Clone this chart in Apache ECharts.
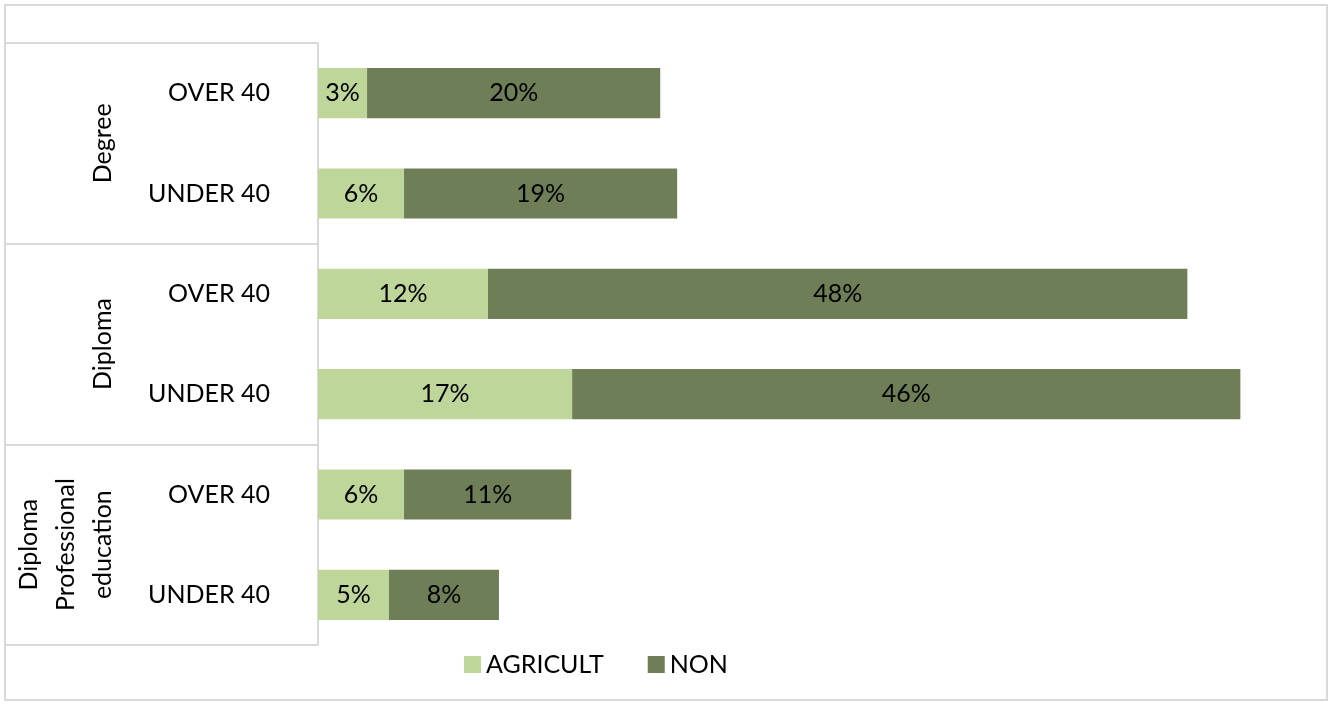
<!DOCTYPE html>
<html>
<head>
<meta charset="utf-8">
<script src="https://cdn.jsdelivr.net/npm/echarts@6/dist/echarts.min.js"></script>
<style>
  html, body { margin: 0; padding: 0; background: #fff; }
  #chart { width: 1330px; height: 704px; }
</style>
</head>
<body>
<div id="chart"></div>
<script>
// Age bands within each education level, top to bottom
const ageBands = ['OVER 40', 'UNDER 40', 'OVER 40', 'UNDER 40', 'OVER 40', 'UNDER 40'];
// Education levels, each spanning two age bands
const educationLevels = ['Degree', 'Diploma', 'Diploma\nProfessional\neducation'];
// Share of respondents (%) by sector
const agricult = [3.36, 5.89, 11.64, 17.4, 5.89, 4.86];
const nonAgri = [20.07, 18.7, 47.88, 45.75, 11.45, 7.53];
const seriesNames = ['AGRICULT', 'NON'];

const FONT = 'Lato, "Open Sans", sans-serif';
const FONT_SIZE = 25;
const GRID_LINE = '#d9d9d9';

const chart = echarts.init(document.getElementById('chart'));

const pctLabel = {
  show: true,
  position: 'inside',
  color: '#000',
  fontFamily: FONT,
  fontSize: FONT_SIZE,
  formatter: p => Math.round(p.value) + '%'
};

chart.setOption({
  animation: false,
  backgroundColor: '#fff',
  textStyle: { fontFamily: FONT },
  graphic: [{
    type: 'rect',
    shape: { x: 5, y: 5, width: 1322, height: 695 },
    style: { fill: 'none', stroke: GRID_LINE, lineWidth: 2 },
    silent: true
  }],
  grid: { left: 318, top: 43, bottom: 59, right: 48 },
  legend: {
    data: seriesNames,
    left: 459,
    top: 647,
    itemWidth: 17,
    itemHeight: 17,
    itemGap: 44,
    icon: 'rect',
    textStyle: { fontFamily: FONT, fontSize: FONT_SIZE, color: '#000' }
  },
  xAxis: {
    type: 'value',
    min: 0,
    max: 66,
    show: false
  },
  yAxis: [{
    type: 'category',
    data: ageBands,
    inverse: true,
    axisLine: { show: false },
    axisTick: { show: false },
    axisLabel: {
      interval: 0,
      margin: 48,
      color: '#000',
      fontFamily: FONT,
      fontSize: FONT_SIZE
    }
  }, {
    type: 'category',
    data: educationLevels,
    inverse: true,
    position: 'left',
    axisLine: { show: true, lineStyle: { color: GRID_LINE, width: 2 } },
    axisTick: { show: true, length: 313, lineStyle: { color: GRID_LINE, width: 2 } },
    axisLabel: {
      interval: 0,
      rotate: 90,
      align: 'center',
      verticalAlign: 'bottom',
      margin: 197,
      lineHeight: 37,
      color: '#000',
      fontFamily: FONT,
      fontSize: FONT_SIZE
    }
  }],
  series: [{
    name: seriesNames[0],
    type: 'bar',
    stack: 'share',
    yAxisIndex: 0,
    barWidth: '50%',
    itemStyle: { color: '#bfd69b' },
    label: pctLabel,
    data: agricult
  }, {
    name: seriesNames[1],
    type: 'bar',
    stack: 'share',
    yAxisIndex: 0,
    barWidth: '50%',
    itemStyle: { color: '#6e7e56' },
    label: pctLabel,
    data: nonAgri
  }]
});
</script>
</body>
</html>
